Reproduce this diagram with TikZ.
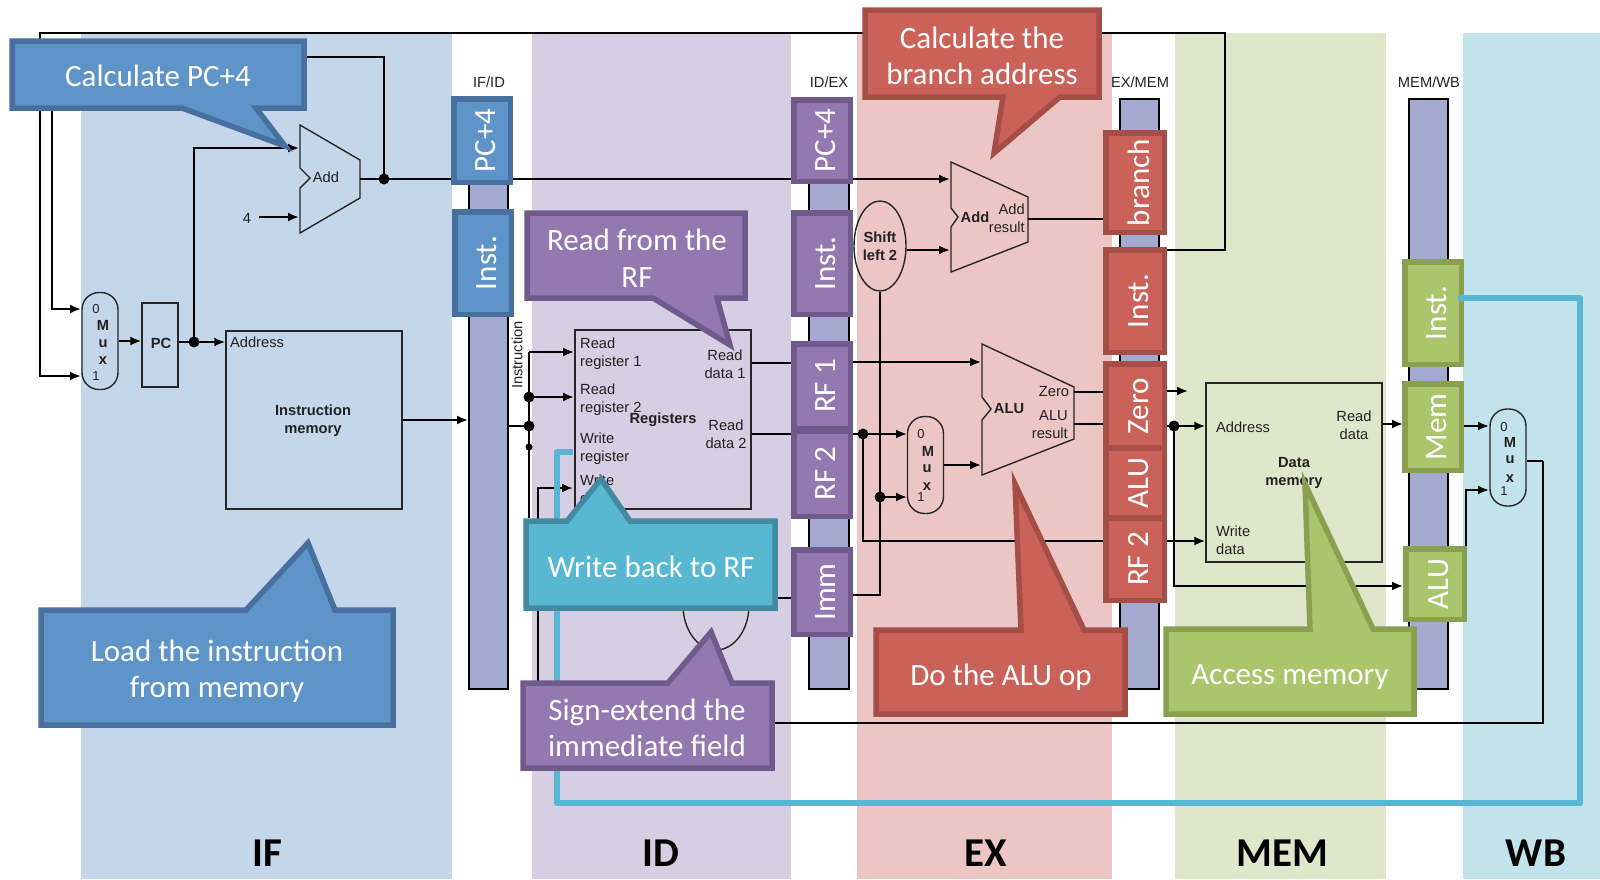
\documentclass[tikz,border=0pt]{standalone}
\usepackage{fontspec}
\setmainfont{Liberation Sans}
\newfontfamily\calfont{Carlito}
\usetikzlibrary{arrows.meta,shapes.geometric}
\definecolor{bandIF}{HTML}{C4D6EA}
\definecolor{bandID}{HTML}{D6CEE2}
\definecolor{bandEX}{HTML}{ECC6C5}
\definecolor{bandMEM}{HTML}{DFE6C9}
\definecolor{bandWB}{HTML}{C3E3EC}
\definecolor{barcol}{HTML}{A4A9CF}
\definecolor{bluef}{HTML}{5F94C8}\definecolor{blued}{HTML}{47709F}
\definecolor{purpf}{HTML}{9478B0}\definecolor{purpd}{HTML}{6F5A8B}
\definecolor{redf}{HTML}{CB6259}\definecolor{redd}{HTML}{A54D47}
\definecolor{greenf}{HTML}{ABC56C}\definecolor{greend}{HTML}{88A04F}
\definecolor{tealf}{HTML}{58B8D2}\definecolor{teald}{HTML}{43899F}
\definecolor{wbwire}{HTML}{58B6D2}
\definecolor{lblcol}{HTML}{222222}
\tikzset{
 band/.style={draw=none},
 bar/.style={draw=black,line width=1.3pt,fill=barcol},
 wire/.style={line width=2pt,draw=black},
 arr/.style={wire,-{Latex[length=11pt,width=9pt]}},
 dot/.style={circle,fill=black,inner sep=0pt,minimum size=11pt},
 unit/.style={line width=1.4pt,draw=black!85},
 lbl/.style={inner sep=0pt,text=lblcol,font=\fontsize{14.7}{18}\selectfont},
 blbl/.style={lbl,font=\fontsize{14.7}{18}\selectfont\bfseries},
 tag/.style={draw,line width=5.5pt,inner sep=0pt,text=white,font=\calfont\fontsize{31}{36}\selectfont},
 btag/.style={tag,draw=blued,fill=bluef},
 ptag/.style={tag,draw=purpd,fill=purpf},
 rtag/.style={tag,draw=redd,fill=redf},
 gtag/.style={tag,draw=greend,fill=greenf},
 ctext/.style={inner sep=0pt,text=white,align=center,font=\calfont\fontsize{31}{36.5}\selectfont},
 call/.style={line width=5.5pt,miter limit=20,line join=miter},
 stage/.style={inner sep=0pt,font=\calfont\fontsize{41}{43}\selectfont\bfseries,text=black},
}
\newcommand{\tagnode}[7]{% style,name,x1,y1,x2,y2,text
 \node[#1,minimum width={#5-#3-5.5},minimum height={#6-#4-5.5},anchor=center] (#2) at ({(#3+#5)/2},{(#4+#6)/2}) {\rotatebox{90}{\raisebox{-3.5pt}[\height][\depth]{#7}}};}
\begin{document}
\begin{tikzpicture}[x=1pt,y=-1pt]
\useasboundingbox (0,0) rectangle (1600,879);
% stage bands
\fill[bandIF] (81,33) rectangle (452,879);
\fill[bandID] (532,33) rectangle (791,879);
\fill[bandEX] (857,33) rectangle (1112,879);
\fill[bandMEM] (1175,33) rectangle (1386,879);
\fill[bandWB] (1463,33) rectangle (1600,879);
% pipeline bars
\draw[bar] (469,99) rectangle (508,689);
\draw[bar] (809,99) rectangle (849,689);
\draw[bar] (1120,99) rectangle (1159,689);
\draw[bar] (1409,99) rectangle (1448,689);
\node[lbl] (ifid) at (489,82) {IF/ID};
\node[lbl] (idex) at (829,82) {ID/EX};
\node[lbl] (exmem) at (1140,82) {EX/MEM};
\node[lbl] (memwb) at (1429,82) {MEM/WB};
% units
\coordinate (addA) at (300,125);\coordinate (addB) at (360,160);\coordinate (addC) at (360,198);\coordinate (addD) at (300,233);
\draw[unit] (addA) -- (addB) -- (addC) -- (addD) -- (300,188) -- (310,178) -- (300,168) -- cycle;
\node[lbl] (addl) at (326,177) {Add};
\node[lbl] (four) at (247,218) {4};
\coordinate (brA) at (951,162);\coordinate (brB) at (1028,197);\coordinate (brC) at (1028,242);\coordinate (brD) at (951,272);
\draw[unit] (brA) -- (brB) -- (brC) -- (brD) -- (951,227) -- (958,217) -- (951,208) -- cycle;
\node[blbl] (addbl) at (975,217) {Add};
\node[lbl,align=right,anchor=east] (addres) at (1025,218) {Add\\result};
\coordinate (aluA) at (982,344);\coordinate (aluB) at (1074,387);\coordinate (aluC) at (1074,439);\coordinate (aluD) at (982,475);
\draw[unit] (aluA) -- (aluB) -- (aluC) -- (aluD) -- (982,420) -- (991,409) -- (982,397) -- cycle;
\node[blbl] (alul) at (1009,409) {ALU};
\node[lbl] (zerol) at (1054,392) {Zero};
\node[lbl,align=right,anchor=east] (alures) at (1068,425) {ALU\\result};
\node[unit,rectangle,rounded corners=17pt,minimum width=36pt,minimum height=97pt,inner sep=0pt,draw] (muxif) at (100,341) {};
\node[lbl,font=\fontsize{13}{14}\selectfont] (mifz) at (96,309) {0};
\node[blbl] (mifm) at (103,325) {M};
\node[blbl] (mifu) at (103,344) {u};
\node[blbl] (mifx) at (103,361) {x};
\node[lbl,font=\fontsize{13}{14}\selectfont] (mifo) at (96,376) {1};
\node[unit,minimum width=36pt,minimum height=84pt,inner sep=0pt,draw] (pc) at (160,345) {};
\node[blbl] (pcl) at (161,343) {PC};
\node[unit,minimum width=176pt,minimum height=178pt,inner sep=0pt,draw] (imem) at (314,420) {};
\node[lbl] (imaddr) at (257,342) {Address};
\node[blbl,align=center] (iml) at (313,421) {Instruction\\memory};
\node[lbl,rotate=90] (instrl) at (517,355) {Instruction};
\node[unit,minimum width=176pt,minimum height=179pt,inner sep=0pt,draw] (regs) at (663,419.5) {};
\node[lbl,align=left,anchor=west] (rr1) at (580,353.5) {Read\\register 1};
\node[lbl,align=left,anchor=west] (rr2) at (580,399.5) {Read\\register 2};
\node[blbl] (regl) at (663,420) {Registers};
\node[lbl,align=left,anchor=west] (wr) at (580,448.5) {Write\\register};
\node[lbl,align=left,anchor=west] (wd) at (580,489) {Write\\data};
\node[lbl,align=center] (rd1l) at (725,364) {Read\\data 1};
\node[lbl,align=center] (rd2l) at (726,434) {Read\\data 2};
\node[unit,ellipse,minimum width=66pt,minimum height=90pt,inner sep=0pt,draw] (sext) at (716,605) {};
\node[unit,ellipse,minimum width=52pt,minimum height=90pt,inner sep=0pt,draw] (shift) at (880,246) {};
\node[blbl,align=center] (shiftl) at (880,246) {Shift\\left 2};
\node[unit,rectangle,rounded corners=17pt,minimum width=36pt,minimum height=97pt,inner sep=0pt,draw] (muxex) at (925.5,465) {};
\node[lbl,font=\fontsize{13}{14}\selectfont] (mexz) at (921,434) {0};
\node[blbl] (mexm) at (928,451) {M};
\node[blbl] (mexu) at (927,469) {u};
\node[blbl] (mexx) at (927,487) {x};
\node[lbl,font=\fontsize{13}{14}\selectfont] (mexo) at (921,497) {1};
\node[unit,minimum width=176pt,minimum height=179pt,inner sep=0pt,draw] (dmem) at (1294,472.5) {};
\node[lbl] (dmaddr) at (1243,427) {Address};
\node[lbl,align=center] (dmrd) at (1354,425) {Read\\data};
\node[blbl,align=center] (dml) at (1294,473) {Data\\memory};
\node[lbl,align=left,anchor=west] (dmwd) at (1216,540) {Write\\data};
\node[unit,rectangle,rounded corners=17pt,minimum width=36pt,minimum height=97pt,inner sep=0pt,draw] (muxwb) at (1508,457.5) {};
\node[lbl,font=\fontsize{13}{14}\selectfont] (mwbz) at (1504,427) {0};
\node[blbl] (mwbm) at (1510,442) {M};
\node[blbl] (mwbu) at (1510,460) {u};
\node[blbl] (mwbx) at (1510,479) {x};
\node[lbl,font=\fontsize{13}{14}\selectfont] (mwbo) at (1504,491) {1};
% junctions
\coordinate (jadd) at (384,179);
\coordinate (jpc) at (194,342);
\coordinate (jin) at (529,426);
\coordinate (jrr2) at (529,397);
\coordinate (jrf2) at (863,434);
\coordinate (jimm) at (880,497);
\coordinate (jalu) at (1174,426);
% wires
\draw[arr] (1167,250) -- (1225,250) -- (1225,33) -- (40,33) -- (40,376) -- (81,376);
\draw[arr] (jadd) -- (384,57) -- (52,57) -- (52,309) -- (81,309);
\draw[arr] (muxif.east |- 0,341) -- (pc.west |- 0,341);
\draw[wire] (pc.east |- jpc) -- (jpc);
\draw[arr] (jpc) -- (imem.west |- jpc);
\draw[arr] (jpc) -- (194,148) -- (299,148);
\draw[arr] (259,217) -- (299,217);
\draw[wire] (addB |- jadd) -- (jadd);
\draw[arr] (jadd) -- (950,179);
\draw[arr] (imem.east |- 0,420) -- (468,420);
\draw[wire] (508,426) -- (jin);
\draw[wire] (529,518) -- (529,352);
\draw[arr] (529,352) -- (574,352);
\draw[arr] (jrr2) -- (574,397);
\draw[arr] (538,725) -- (538,488) -- (573,488);
\draw[wire,line width=2.6pt] (1543,461) -- (1543,723) -- (538,723);
\draw[wire] (muxwb.east |- 0,461) -- (1543,461);
\draw[wire] (regs.east |- 0,363) -- (791,363);
\draw[wire] (regs.east |- jrf2) -- (791,434);
\draw[wire] (sext.east |- 0,598) -- (791,598);
\draw[arr] (853,362) -- (981,362);
\draw[wire] (853,434) -- (jrf2);
\draw[arr] (jrf2) -- (907,434);
\draw[wire] (jrf2) -- (863,541) -- (1103,541);
\draw[arr] (1167,541) -- (dmem.west |- 0,541);
\draw[wire] (853,595) -- (880,595) -- (shift.south);
\draw[arr] (jimm) -- (907,497);
\draw[arr] (shift.east |- 0,250) -- (950,250);
\draw[arr] (muxex.east |- 0,465) -- (981,465);
\draw[wire] (brC |- 0,219) -- (1103,219);
\draw[wire] (1074,392) -- (1103,392);
\draw[wire] (1074,424) -- (1103,424);
\draw[arr] (1167,391) -- (1188,391);
\draw[wire] (1167,426) -- (jalu);
\draw[arr] (jalu) -- (dmem.west |- jalu);
\draw[arr] (jalu) -- (1174,586) -- (1403,586);
\draw[arr] (dmem.east |- 0,424) -- (1403,424);
\draw[arr] (1464,426) -- (1489,426);
\draw[arr] (1466,546) -- (1466,490) -- (1489,490);
\foreach \n/\p in {d1/jadd,d2/jpc,d3/jin,d4/jrr2,d5/jrf2,d6/jimm,d7/jalu}{\node[dot] (\n) at (\p) {};}
\node[dot,minimum size=7pt] (d8) at (529,447) {};
% register tags
\tagnode{btag}{tpc}{451}{96}{513}{185}{PC+4}
\tagnode{btag}{tinst}{452}{209}{514}{317}{Inst.}
\tagnode{ptag}{upc}{791}{97}{853}{184}{PC+4}
\tagnode{ptag}{uinst}{791}{210}{853}{317}{Inst.}
\tagnode{ptag}{urf1}{791}{341}{853}{431}{RF 1}
\tagnode{ptag}{urf2}{791}{428}{853}{519}{RF 2}
\tagnode{ptag}{uimm}{791}{547}{853}{637}{Imm}
\tagnode{rtag}{vbr}{1103}{130}{1167}{235}{branch}
\tagnode{rtag}{vinst}{1103}{247}{1167}{355}{Inst.}
\tagnode{rtag}{vzero}{1103}{361}{1167}{451}{Zero}
\tagnode{rtag}{valu}{1103}{445}{1167}{521}{ALU}
\tagnode{rtag}{vrf}{1103}{515}{1167}{603}{RF 2}
\tagnode{gtag}{winst}{1402}{259}{1464}{367}{Inst.}
\tagnode{gtag}{wmem}{1402}{381}{1464}{473}{Mem}
\tagnode{gtag}{walu}{1403}{546}{1467}{622}{ALU}
% write-back wire
\draw[line width=6pt,draw=wbwire,line join=round] (1458,298) -- (1580,298) -- (1580,803) -- (557,803) -- (557,452) -- (573,452);
% callouts
\draw[call,draw=blued,fill=bluef] (12,41) -- (304,41) -- (304,108) -- (256,108) -- (285,146) -- (182,108) -- (12,108) -- cycle;
\node[ctext] (c1) at (158,76) {Calculate PC+4};
\draw[call,draw=redd,fill=redf] (865,10) -- (1099,10) -- (1099,97) -- (1060,97) -- (994,153) -- (1003,97) -- (865,97) -- cycle;
\node[ctext] (c2) at (982,56) {Calculate the\\branch address};
\draw[call,draw=purpd,fill=purpf] (527,213) -- (745,213) -- (745,298) -- (717,298) -- (730,345) -- (653,298) -- (527,298) -- cycle;
\node[ctext] (c3) at (637,258) {Read from the\\RF};
\draw[call,draw=greend,fill=greenf] (1166,629) -- (1310,629) -- (1305,484) -- (1373,629) -- (1414,629) -- (1414,714) -- (1166,714) -- cycle;
\node[ctext] (c4) at (1290,677) {Access memory};
\draw[call,draw=redd,fill=redf] (876,630) -- (1021,630) -- (1015,484) -- (1084,630) -- (1125,630) -- (1125,714) -- (876,714) -- cycle;
\node[ctext] (c5) at (1001,677) {Do the ALU op};
\draw[call,draw=purpd,fill=purpf] (523,683) -- (668,683) -- (711,632) -- (732,683) -- (772,683) -- (772,768) -- (523,768) -- cycle;
\node[ctext] (c6) at (647,728) {Sign-extend the\\immediate field};
\draw[call,draw=teald,fill=tealf] (526,521) -- (567,521) -- (601,479) -- (630,521) -- (775,521) -- (775,608) -- (526,608) -- cycle;
\node[ctext] (c7) at (651,567) {Write back to RF};
\draw[call,draw=blued,fill=bluef] (41,610) -- (246,610) -- (308,543) -- (335,610) -- (393,610) -- (393,725) -- (41,725) -- cycle;
\node[ctext] (c8) at (217,671) {Load the instruction\\from memory};
% stage names
\node[stage] (sif) at (267,853) {IF};
\node[stage] (sid) at (661,853) {ID};
\node[stage] (sex) at (986,853) {EX};
\node[stage] (smem) at (1282,853) {MEM};
\node[stage] (swb) at (1536,853) {WB};
\end{tikzpicture}
\end{document}
